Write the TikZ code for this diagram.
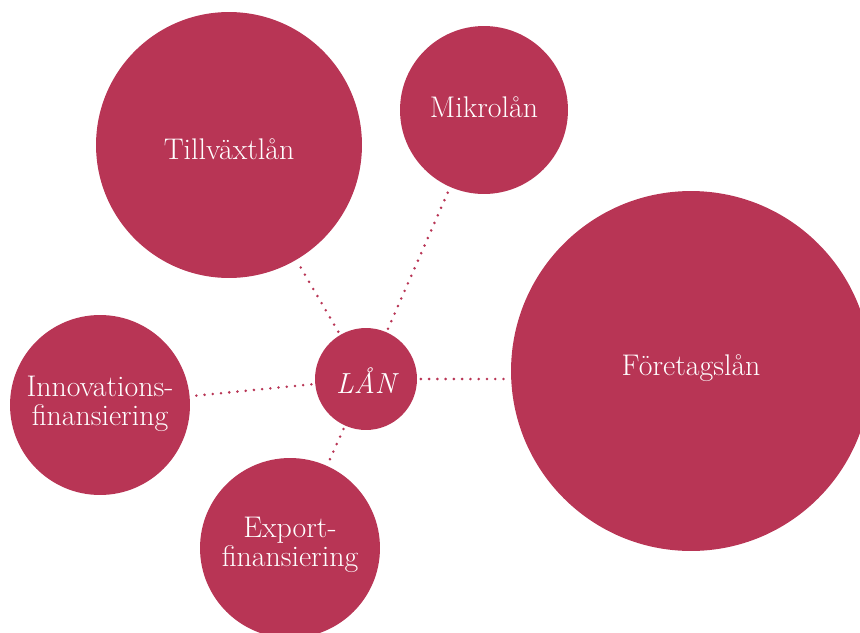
\documentclass[tikz,border=0pt]{standalone}
\usepackage{tikz}
\usepackage{xcolor}
\usetikzlibrary{positioning}
\definecolor{loanred}{RGB}{184,53,85}

\begin{document}
\begin{tikzpicture}[x=0.02cm, y=-0.02cm,
  bubble/.style={circle, fill=loanred, text=white, align=center, inner sep=0pt,
    font=\fontsize{17}{16.5}\selectfont},
  link/.style={loanred, line width=1.6pt, line cap=round,
    dash pattern=on 0pt off 4.7pt, shorten <=2pt, shorten >=2pt}]
\useasboundingbox (0,0) rectangle (860,633);
\clip (0,0) rectangle (860,633);

% Bubbles
\node[bubble, minimum size=5.32cm] (tillvaxt) at (229,145) {};
\node[bubble, minimum size=3.36cm] (mikro) at (484,110) {};
\node[bubble, minimum size=7.2cm] (foretag) at (691,371) {};
\node[bubble, minimum size=2.04cm] (lan) at (366,379) {};
\node[bubble, minimum size=3.6cm] (innov) at (100,405) {};
\node[bubble, minimum size=3.6cm] (export) at (290,548) {};

% Labels
\node[bubble, fill=none] (tillvaxtlabel) at (229,149) {Tillväxtlån};
\node[bubble, fill=none] (mikrolabel) at (484,107) {Mikrolån};
\node[bubble, fill=none] (foretaglabel) at (691,368) {Företagslån};
\node[bubble, fill=none, font=\fontsize{16.5}{16}\selectfont\itshape] (lanlabel) at (366,381) {LÅN};
\node[bubble, fill=none] (innovlabel) at (100,404) {Innovations-\\finansiering};
\node[bubble, fill=none] (exportlabel) at (290,545) {Export-\\finansiering};

% Dotted links
\draw[link] (lan) -- (tillvaxt);
\draw[link] (lan) -- (mikro);
\draw[link] (lan) -- (lan -| foretag.west);
\draw[link] (lan) -- (innov);
\draw[link] (lan) -- (export);
\end{tikzpicture}
\end{document}
